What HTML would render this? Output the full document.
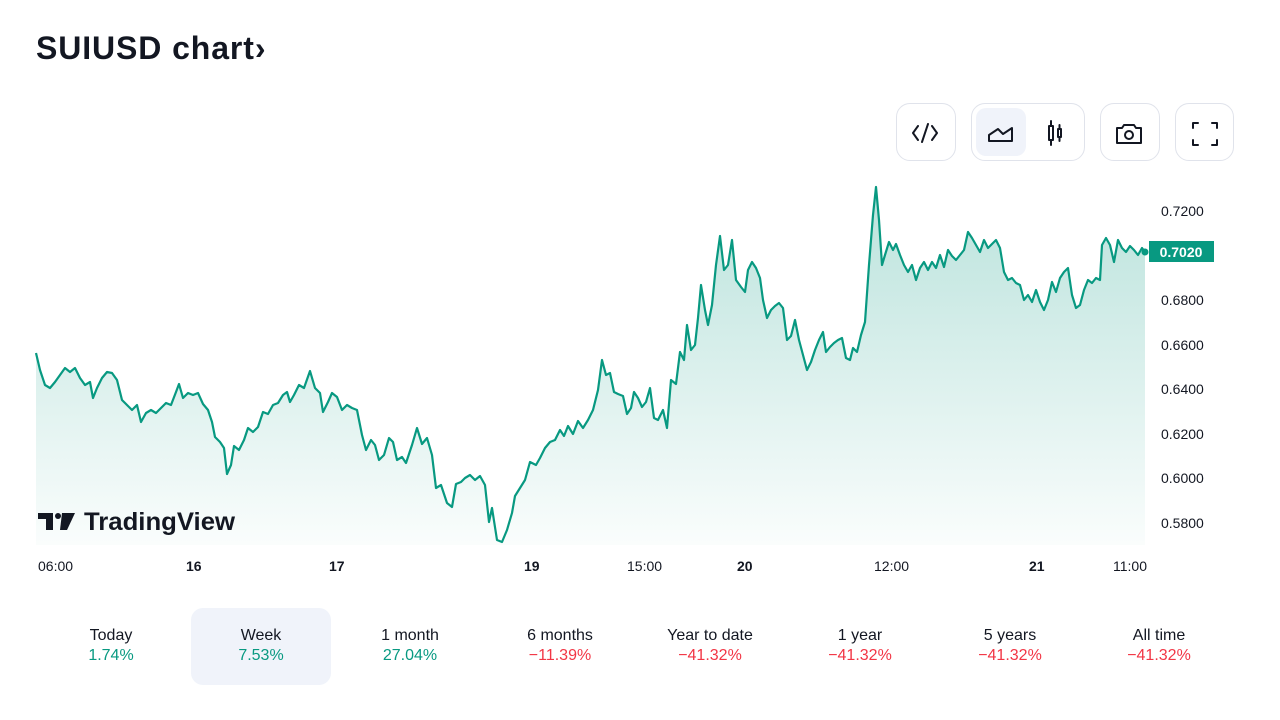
<!DOCTYPE html>
<html><head><meta charset="utf-8"><style>
body{margin:0;width:1280px;height:720px;background:#fff;font-family:"Liberation Sans",sans-serif;color:#131722;position:relative;overflow:hidden}
.t{position:absolute;left:36px;top:30px;font-size:32px;font-weight:bold;letter-spacing:0.9px}
.btn{position:absolute;top:103px;height:58px;border:1px solid #e0e3eb;border-radius:14px;box-sizing:border-box;background:#fff}
.tab{position:absolute;top:608px;width:140px;height:77px;text-align:center;font-size:16px;box-sizing:border-box;padding-top:19px;border-radius:12px}
.tab div{margin-bottom:2px}
.g{color:#089981}.r{color:#f23645}
</style></head><body>
<div class="t">SUIUSD chart›</div>
<div class="btn" style="left:896px;width:60px"></div>
<div class="btn" style="left:971px;width:114px"><div style="position:absolute;left:4px;top:4px;width:50px;height:48px;background:#f0f3fa;border-radius:10px"></div></div>
<div class="btn" style="left:1100px;width:60px"></div>
<div class="btn" style="left:1175px;width:59px"></div>
<svg style="position:absolute;left:0;top:0" width="1280" height="720">
<g fill="none" stroke="#131722" stroke-width="2" stroke-linecap="round" stroke-linejoin="round">
<path d="M918 126l-5 7 5 7M932 126l5 7-5 7M928 124l-6 18"/>
<path d="M989 141v-6l9-6 5 5 9-6v13z"/>
<rect x="1049" y="126" width="4" height="14"/><path d="M1051 121v5M1051 140v5"/><rect x="1058" y="129" width="3" height="8"/><path d="M1059.5 125v4M1059.5 137v4"/>
<path d="M1117 128h5l2-3h10l2 3h5v15h-24z"/><circle cx="1129" cy="135" r="4"/>
<path d="M1193 128v-5h5M1212 123h5v5M1217 140v5h-5M1198 145h-5v-5"/>
</g>
<defs><linearGradient id="f" x1="0" y1="0" x2="0" y2="1"><stop offset="0" stop-color="#089981" stop-opacity="0.28"/><stop offset="1" stop-color="#089981" stop-opacity="0.02"/></linearGradient></defs>
<path fill="url(#f)" stroke="none" d="M36 545 L36,353 40,370 45,385 50,388 55,382 60,375 65,368 70,372 75,368 80,378 85,385 90,382 93,398 97,388 102,378 107,372 112,373 117,380 122,400 127,405 132,410 137,405 141,422 146,413 151,410 156,413 161,408 166,403 171,405 176,392 179,384 183,398 188,393 193,395 198,393 203,404 208,410 212,422 215,437 220,442 224,448 227,474 231,465 234,446 239,450 244,440 248,428 253,432 258,427 263,412 268,414 273,405 278,403 283,395 287,392 290,402 294,395 299,385 304,388 310,371 315,388 320,393 323,412 328,402 332,393 337,397 342,410 347,405 352,408 357,410 362,435 366,450 371,440 375,445 379,460 384,455 389,438 393,442 397,460 402,457 406,463 412,445 417,428 422,444 427,438 432,455 436,488 441,485 447,503 452,507 456,484 461,482 465,478 470,475 475,480 480,476 485,485 489,522 492,508 497,540 502,542 507,530 512,513 515,496 520,488 525,480 530,462 536,465 540,458 545,448 550,442 555,440 560,430 564,436 568,426 573,434 578,421 583,428 588,420 593,410 598,390 602,360 606,375 610,373 614,392 618,394 623,396 627,414 631,408 634,392 638,398 642,407 646,402 650,388 654,418 658,420 663,410 667,428 671,380 676,384 680,352 684,360 687,325 691,350 695,345 698,318 701,285 705,310 708,325 712,305 716,265 720,236 724,270 728,265 732,240 736,280 741,287 745,292 748,270 752,262 756,268 760,278 763,300 767,318 771,310 775,306 779,303 783,308 787,340 791,336 795,320 799,340 803,355 807,370 811,362 815,350 819,340 823,332 826,352 830,347 834,343 838,340 842,338 846,358 850,360 853,348 857,352 861,335 865,322 869,265 873,215 876,187 879,220 882,265 885,255 889,242 893,250 896,244 900,255 904,265 908,272 912,265 916,280 920,268 924,262 928,270 932,262 936,268 940,255 944,267 948,250 952,256 956,260 960,255 964,250 968,232 972,238 976,245 980,252 984,240 988,248 992,244 996,240 1000,248 1004,272 1008,280 1012,278 1016,283 1020,285 1024,300 1028,295 1032,302 1036,290 1040,302 1044,310 1048,300 1052,282 1056,292 1060,278 1064,272 1068,268 1072,295 1076,308 1080,305 1084,290 1088,280 1092,283 1096,278 1100,280 1102,245 1106,238 1110,245 1114,262 1118,240 1122,248 1126,252 1130,246 1134,250 1138,255 1142,248 1145,252 L1145 545 Z"/>
<polyline fill="none" stroke="#089981" stroke-width="2.2" stroke-linejoin="round" points="36,353 40,370 45,385 50,388 55,382 60,375 65,368 70,372 75,368 80,378 85,385 90,382 93,398 97,388 102,378 107,372 112,373 117,380 122,400 127,405 132,410 137,405 141,422 146,413 151,410 156,413 161,408 166,403 171,405 176,392 179,384 183,398 188,393 193,395 198,393 203,404 208,410 212,422 215,437 220,442 224,448 227,474 231,465 234,446 239,450 244,440 248,428 253,432 258,427 263,412 268,414 273,405 278,403 283,395 287,392 290,402 294,395 299,385 304,388 310,371 315,388 320,393 323,412 328,402 332,393 337,397 342,410 347,405 352,408 357,410 362,435 366,450 371,440 375,445 379,460 384,455 389,438 393,442 397,460 402,457 406,463 412,445 417,428 422,444 427,438 432,455 436,488 441,485 447,503 452,507 456,484 461,482 465,478 470,475 475,480 480,476 485,485 489,522 492,508 497,540 502,542 507,530 512,513 515,496 520,488 525,480 530,462 536,465 540,458 545,448 550,442 555,440 560,430 564,436 568,426 573,434 578,421 583,428 588,420 593,410 598,390 602,360 606,375 610,373 614,392 618,394 623,396 627,414 631,408 634,392 638,398 642,407 646,402 650,388 654,418 658,420 663,410 667,428 671,380 676,384 680,352 684,360 687,325 691,350 695,345 698,318 701,285 705,310 708,325 712,305 716,265 720,236 724,270 728,265 732,240 736,280 741,287 745,292 748,270 752,262 756,268 760,278 763,300 767,318 771,310 775,306 779,303 783,308 787,340 791,336 795,320 799,340 803,355 807,370 811,362 815,350 819,340 823,332 826,352 830,347 834,343 838,340 842,338 846,358 850,360 853,348 857,352 861,335 865,322 869,265 873,215 876,187 879,220 882,265 885,255 889,242 893,250 896,244 900,255 904,265 908,272 912,265 916,280 920,268 924,262 928,270 932,262 936,268 940,255 944,267 948,250 952,256 956,260 960,255 964,250 968,232 972,238 976,245 980,252 984,240 988,248 992,244 996,240 1000,248 1004,272 1008,280 1012,278 1016,283 1020,285 1024,300 1028,295 1032,302 1036,290 1040,302 1044,310 1048,300 1052,282 1056,292 1060,278 1064,272 1068,268 1072,295 1076,308 1080,305 1084,290 1088,280 1092,283 1096,278 1100,280 1102,245 1106,238 1110,245 1114,262 1118,240 1122,248 1126,252 1130,246 1134,250 1138,255 1142,248 1145,252"/>
<circle cx="1145" cy="252" r="3.5" fill="#089981"/>
<rect x="1149" y="241" width="65" height="21" fill="#089981"/>
<text x="1181" y="257" fill="#fff" font-size="14" font-weight="bold" text-anchor="middle" font-family="Liberation Sans">0.7020</text>
<g font-family="Liberation Sans" font-size="14" fill="#131722">
<text x="1161" y="216">0.7200</text><text x="1161" y="305">0.6800</text><text x="1161" y="350">0.6600</text><text x="1161" y="394">0.6400</text><text x="1161" y="439">0.6200</text><text x="1161" y="483">0.6000</text><text x="1161" y="528">0.5800</text>
<text x="38" y="571">06:00</text><text x="186" y="571" font-weight="bold">16</text><text x="329" y="571" font-weight="bold">17</text><text x="524" y="571" font-weight="bold">19</text><text x="627" y="571">15:00</text><text x="737" y="571" font-weight="bold">20</text><text x="874" y="571">12:00</text><text x="1029" y="571" font-weight="bold">21</text><text x="1113" y="571">11:00</text>
</g>
<g fill="#131722"><path d="M38 513h15v17h-7v-11h-8z"/><circle cx="58" cy="516" r="3"/><path d="M62 513h13l-8 17h-7z"/></g>
<text x="84" y="530" font-family="Liberation Sans" font-size="25" font-weight="bold" fill="#131722" textLength="151" lengthAdjust="spacingAndGlyphs">TradingView</text>
</svg>
<div class="tab" style="left:41px"><div>Today</div><div class="g">1.74%</div></div>
<div class="tab" style="left:191px;background:#f0f3fa"><div>Week</div><div class="g">7.53%</div></div>
<div class="tab" style="left:340px"><div>1 month</div><div class="g">27.04%</div></div>
<div class="tab" style="left:490px"><div>6 months</div><div class="r">−11.39%</div></div>
<div class="tab" style="left:640px"><div>Year to date</div><div class="r">−41.32%</div></div>
<div class="tab" style="left:790px"><div>1 year</div><div class="r">−41.32%</div></div>
<div class="tab" style="left:940px"><div>5 years</div><div class="r">−41.32%</div></div>
<div class="tab" style="left:1089px"><div>All time</div><div class="r">−41.32%</div></div>
</body></html>
